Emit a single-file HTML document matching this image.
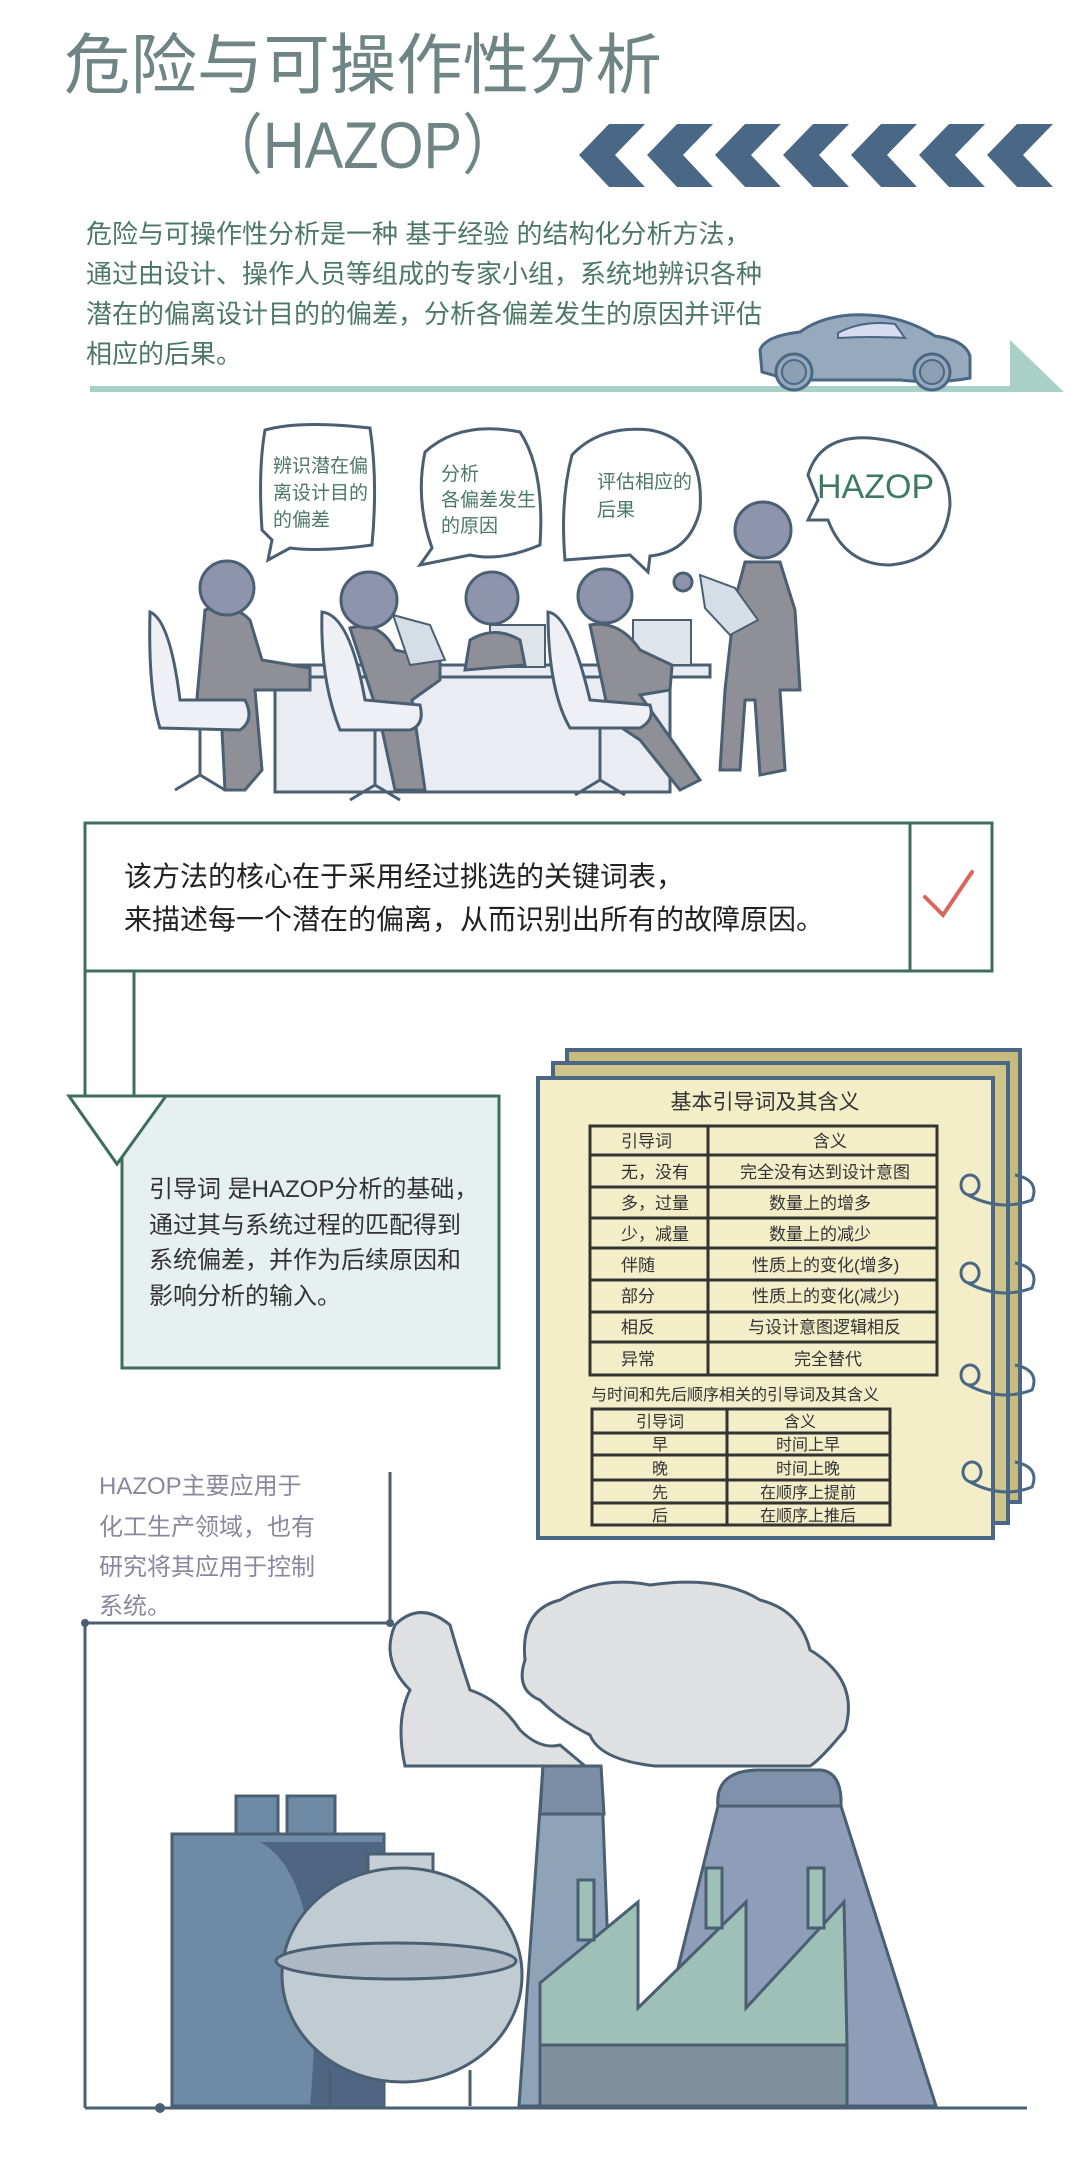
<!DOCTYPE html>
<html><head><meta charset="utf-8">
<style>
html,body{margin:0;padding:0;background:#fff;}
svg{display:block;}
text{font-family:"Liberation Sans","Noto Sans CJK SC",sans-serif;}
</style></head>
<body>
<svg width="1080" height="2160" viewBox="0 0 1080 2160" xmlns="http://www.w3.org/2000/svg">
<!-- Title -->
<text x="64" y="88" font-size="66" fill="#6f8585" textLength="598" lengthAdjust="spacingAndGlyphs">危险与可操作性分析</text>
<text x="205" y="168" font-size="66" fill="#6f8585" textLength="315" lengthAdjust="spacingAndGlyphs">（HAZOP）</text>
<!-- chevrons -->
<g fill="#4a6885">
<polygon points="579,155 609,124 645,124 615,155 645,187 609,187"/>
<polygon points="647,155 677,124 713,124 683,155 713,187 677,187"/>
<polygon points="715,155 745,124 781,124 751,155 781,187 745,187"/>
<polygon points="783,155 813,124 849,124 819,155 849,187 813,187"/>
<polygon points="851,155 881,124 917,124 887,155 917,187 881,187"/>
<polygon points="919,155 949,124 985,124 955,155 985,187 949,187"/>
<polygon points="987,155 1017,124 1053,124 1023,155 1053,187 1017,187"/>
</g>
<!-- intro paragraph -->
<g font-size="26" fill="#4d7868">
<text x="86" y="243">危险与可操作性分析是一种 基于经验 的结构化分析方法，</text>
<text x="86" y="283">通过由设计、操作人员等组成的专家小组，系统地辨识各种</text>
<text x="86" y="323">潜在的偏离设计目的的偏差，分析各偏差发生的原因并评估</text>
<text x="86" y="363">相应的后果。</text>
</g>
<!-- road line + triangle -->
<rect x="90" y="386" width="925" height="6" fill="#a9d0c6"/>
<polygon points="1010,340 1064,392 1010,392" fill="#a9d0c6"/>
<!-- car -->
<path d="M762,372 L760,350 Q765,336 800,332 Q830,310 880,316 Q910,320 935,336 Q965,340 970,356 L970,378 Q940,384 900,380 L790,380 Z" fill="#97a9bc" stroke="#4a6885" stroke-width="3"/>
<path d="M838,333 Q862,320 895,324 L905,338 Q870,336 838,338 Z" fill="#d8dcf0" stroke="#4a6885" stroke-width="2"/>
<circle cx="794" cy="372" r="18" fill="#97a9bc" stroke="#4a6885" stroke-width="3"/>
<circle cx="794" cy="372" r="12" fill="#8d9fb2" stroke="#4a6885" stroke-width="2"/>
<circle cx="932" cy="372" r="18" fill="#97a9bc" stroke="#4a6885" stroke-width="3"/>
<circle cx="932" cy="372" r="12" fill="#8d9fb2" stroke="#4a6885" stroke-width="2"/>

<!-- meeting scene -->
<g stroke="#4a5f72" stroke-width="3" fill="#fff">
<path d="M265,430 Q300,420 370,428 Q378,480 372,545 Q320,552 290,548 L268,560 L272,540 L262,530 Q258,470 265,430 Z"/>
<path d="M425,452 Q460,420 520,432 Q545,470 540,545 Q500,562 470,555 L420,565 L432,548 Q415,500 425,452 Z"/>
<path d="M572,455 Q600,425 650,430 Q705,440 700,510 Q690,552 650,556 L648,572 L630,555 L565,560 Q560,500 572,455 Z"/>
<path d="M808,475 Q820,435 870,438 Q950,445 950,505 Q945,560 890,565 Q845,565 828,520 L808,520 L818,500 Z"/>
</g>
<g font-size="19" fill="#4d7868">
<text x="273" y="472">辨识潜在偏</text><text x="273" y="499">离设计目的</text><text x="273" y="526">的偏差</text>
<text x="441" y="480">分析</text><text x="441" y="506">各偏差发生</text><text x="441" y="532">的原因</text>
<text x="597" y="488">评估相应的</text><text x="597" y="516">后果</text>
</g>
<text x="817" y="498" font-size="34" fill="#3d7a66">HAZOP</text>
<!-- table -->
<rect x="245" y="665" width="465" height="12" fill="#e9ecf2" stroke="#4a5f72" stroke-width="3"/>
<rect x="275" y="677" width="395" height="115" fill="#e9ecf2" stroke="#4a5f72" stroke-width="3"/>
<!-- laptops -->
<rect x="490" y="625" width="55" height="42" fill="#dfe3ea" stroke="#4a5f72" stroke-width="2"/>
<rect x="633" y="620" width="58" height="45" fill="#dfe3ea" stroke="#4a5f72" stroke-width="2"/>
<!-- people -->
<g fill="#8f9097" stroke="#4a5f72" stroke-width="3">
<path d="M205,610 Q230,600 250,620 L262,660 L310,668 L310,690 L255,690 L262,770 L245,790 L225,790 L222,730 L195,720 Z"/>
<path d="M350,628 Q380,620 395,650 L440,660 L440,680 L412,700 L425,790 L395,790 L380,720 Z"/>
<path d="M470,640 Q495,625 520,640 L525,665 L465,670 Z"/>
<path d="M590,625 Q620,620 640,650 L672,665 L670,690 L640,695 L700,780 L680,790 L640,740 L610,720 Z"/>
<path d="M745,562 L780,562 L795,610 L800,690 L780,690 L785,770 L760,775 L755,700 L745,700 L740,770 L720,770 L725,690 L735,600 Z"/>
<circle cx="227" cy="588" r="27" fill="#8e94ab"/>
<circle cx="369" cy="600" r="28" fill="#8e94ab"/>
<circle cx="492" cy="598" r="26" fill="#8e94ab"/>
<circle cx="605" cy="596" r="27" fill="#8e94ab"/>
<circle cx="763" cy="530" r="28" fill="#8e94ab"/>
<circle cx="683" cy="582" r="9" fill="#8e94ab"/>
</g>
<path d="M700,575 L735,588 L758,620 L730,635 L705,608 Z" fill="#d5dde6" stroke="#4a5f72" stroke-width="2"/>
<path d="M393,615 L430,625 L445,660 L410,665 Z" fill="#d5dde6" stroke="#4a5f72" stroke-width="2"/>
<!-- chairs -->
<g fill="#eef0f6" stroke="#4a5f72" stroke-width="3">
<path d="M150,612 Q170,620 180,700 L245,700 Q255,720 240,730 L160,728 Q148,690 150,612 Z"/>
<path d="M322,612 Q350,615 365,700 L420,705 Q425,725 410,730 L340,730 Q320,680 322,612 Z"/>
<path d="M548,612 Q570,615 590,700 L650,705 Q655,720 640,728 L570,728 Q548,690 548,612 Z"/>
</g>
<g stroke="#4a5f72" stroke-width="3" fill="none">
<path d="M200,730 L200,775 M175,790 L200,775 L225,790"/>
<path d="M375,730 L375,785 M350,800 L375,785 L400,800"/>
<path d="M600,728 L600,780 M575,795 L600,780 L625,795"/>
</g>

<!-- box 1 -->
<rect x="85" y="823" width="907" height="148" fill="#fff" stroke="#3f6e5e" stroke-width="3"/>
<line x1="910" y1="823" x2="910" y2="971" stroke="#3f6e5e" stroke-width="3"/>
<path d="M925,897 L943,915 L972,872" fill="none" stroke="#d9675e" stroke-width="4" stroke-linecap="round"/>
<g font-size="28" fill="#222">
<text x="124" y="886">该方法的核心在于采用经过挑选的关键词表，</text>
<text x="124" y="929">来描述每一个潜在的偏离，从而识别出所有的故障原因。</text>
</g>
<!-- connector -->
<line x1="85" y1="971" x2="85" y2="1096" stroke="#3f6e5e" stroke-width="3"/>
<line x1="134" y1="971" x2="134" y2="1096" stroke="#3f6e5e" stroke-width="3"/>
<polygon points="69,1096 166,1096 117,1164" fill="#fff" stroke="#3f6e5e" stroke-width="3"/>
<!-- box 2 -->
<rect x="122" y="1096" width="377" height="272" fill="#e6f0ee" stroke="#3f6e5e" stroke-width="3"/>
<polygon points="69,1096 166,1096 117,1164" fill="#fff" stroke="#3f6e5e" stroke-width="3"/>
<g font-size="24" fill="#333">
<text x="149" y="1197">引导词 是HAZOP分析的基础，</text>
<text x="149" y="1233">通过其与系统过程的匹配得到</text>
<text x="149" y="1268">系统偏差，并作为后续原因和</text>
<text x="149" y="1304">影响分析的输入。</text>
</g>

<!-- notebook -->
<rect x="567" y="1050" width="453" height="452" fill="#c7bb7e" stroke="#4a6885" stroke-width="4"/>
<rect x="553" y="1063" width="455" height="460" fill="#cfc48a" stroke="#4a6885" stroke-width="4"/>
<rect x="538" y="1078" width="455" height="460" fill="#f3edc8" stroke="#4a6885" stroke-width="4"/>
<text x="765" y="1109" font-size="21" fill="#333" text-anchor="middle">基本引导词及其含义</text>
<g stroke="#333" stroke-width="3" fill="none">
<rect x="590" y="1126" width="347" height="249"/>
<line x1="708" y1="1126" x2="708" y2="1375"/>
<line x1="590" y1="1155" x2="937" y2="1155"/>
<line x1="590" y1="1187" x2="937" y2="1187"/>
<line x1="590" y1="1218" x2="937" y2="1218"/>
<line x1="590" y1="1248" x2="937" y2="1248"/>
<line x1="590" y1="1280" x2="937" y2="1280"/>
<line x1="590" y1="1312" x2="937" y2="1312"/>
<line x1="590" y1="1342" x2="937" y2="1342"/>
</g>
<g font-size="17" fill="#333">
<text x="621" y="1147">引导词</text><text x="813" y="1147">含义</text>
<text x="621" y="1178">无，没有</text><text x="740" y="1178">完全没有达到设计意图</text>
<text x="621" y="1209">多，过量</text><text x="769" y="1209">数量上的增多</text>
<text x="621" y="1240">少，减量</text><text x="769" y="1240">数量上的减少</text>
<text x="621" y="1271">伴随</text><text x="752" y="1271">性质上的变化(增多)</text>
<text x="621" y="1302">部分</text><text x="752" y="1302">性质上的变化(减少)</text>
<text x="621" y="1333">相反</text><text x="748" y="1333">与设计意图逻辑相反</text>
<text x="621" y="1365">异常</text><text x="794" y="1365">完全替代</text>
</g>
<text x="591" y="1400" font-size="16" fill="#333">与时间和先后顺序相关的引导词及其含义</text>
<g stroke="#333" stroke-width="3" fill="none">
<rect x="592" y="1409" width="298" height="116"/>
<line x1="727" y1="1409" x2="727" y2="1525"/>
<line x1="592" y1="1433" x2="890" y2="1433"/>
<line x1="592" y1="1455" x2="890" y2="1455"/>
<line x1="592" y1="1480" x2="890" y2="1480"/>
<line x1="592" y1="1503" x2="890" y2="1503"/>
</g>
<g font-size="16" fill="#333" text-anchor="middle">
<text x="660" y="1427">引导词</text><text x="800" y="1427">含义</text>
<text x="660" y="1450">早</text><text x="808" y="1450">时间上早</text>
<text x="660" y="1474">晚</text><text x="808" y="1474">时间上晚</text>
<text x="660" y="1498">先</text><text x="808" y="1498">在顺序上提前</text>
<text x="660" y="1521">后</text><text x="808" y="1521">在顺序上推后</text>
</g>
<g fill="none" stroke="#4a6885" stroke-width="3">
<ellipse cx="970" cy="1185" rx="9" ry="10"/><path d="M968,1195 Q1000,1212 1032,1200 Q1040,1180 1015,1175"/>
<ellipse cx="970" cy="1273" rx="9" ry="10"/><path d="M968,1283 Q1000,1300 1032,1288 Q1040,1268 1015,1263"/>
<ellipse cx="970" cy="1375" rx="9" ry="10"/><path d="M968,1385 Q1000,1402 1032,1390 Q1040,1370 1015,1365"/>
<ellipse cx="972" cy="1472" rx="9" ry="10"/><path d="M970,1482 Q1002,1499 1032,1487 Q1040,1467 1015,1462"/>
</g>

<!-- bottom text -->
<g font-size="24" fill="#8a879e">
<text x="99" y="1494">HAZOP主要应用于</text>
<text x="99" y="1535">化工生产领域，也有</text>
<text x="99" y="1575">研究将其应用于控制</text>
<text x="99" y="1614">系统。</text>
</g>
<g stroke="#4a5f72" stroke-width="3" fill="none">
<line x1="390" y1="1472" x2="390" y2="1623"/>
<line x1="85" y1="1623" x2="390" y2="1623"/>
<line x1="85" y1="1623" x2="85" y2="2108"/>
<line x1="85" y1="2108" x2="1027" y2="2108"/>
</g>
<circle cx="85" cy="1623" r="4" fill="#4a5f72"/><circle cx="390" cy="1623" r="4" fill="#4a5f72"/><circle cx="160" cy="2108" r="5" fill="#4a5f72"/>

<!-- factory -->
<g stroke="#4a5f72" stroke-width="3">
<path d="M405,1766 Q395,1720 410,1690 Q380,1660 395,1625 Q420,1600 450,1625 Q460,1660 470,1690 Q500,1700 520,1730 Q540,1750 560,1745 L585,1766 Z" fill="#dfe0e2"/>
<path d="M655,1766 Q600,1760 590,1735 Q560,1720 540,1700 Q515,1690 525,1660 Q520,1610 560,1600 Q600,1575 650,1585 Q720,1575 760,1600 Q800,1610 810,1650 Q860,1680 845,1730 Q820,1760 810,1766 Z" fill="#dfe0e2"/>
<rect x="236" y="1796" width="42" height="40" fill="#6f8aa5"/>
<rect x="287" y="1796" width="48" height="40" fill="#6f8aa5"/>
<rect x="172" y="1834" width="212" height="272" fill="#6f8aa5"/>
<path d="M384,1842 L260,1842 Q330,1880 310,2106 L384,2106 Z" fill="#4e6682" stroke="none"/>
<path d="M543,1766 L601,1766 L614,2106 L519,2106 Z" fill="#8ea3b8"/>
<path d="M543,1766 L601,1766 L604,1814 L540,1814 Z" fill="#7c8ea6"/>
<path d="M718,1806 Q715,1770 760,1770 L820,1770 Q842,1772 841,1806 L936,2106 L644,2106 Z" fill="#8e9db8"/>
<path d="M718,1806 Q715,1770 760,1770 L820,1770 Q842,1772 841,1806 Z" fill="#7f92ab"/>
<rect x="368" y="1854" width="65" height="20" fill="#c7cfd6"/>
<ellipse cx="402" cy="1975" rx="120" ry="107" fill="#c0ccd2"/>
<ellipse cx="396" cy="1961" rx="120" ry="18" fill="#aeb9c3"/>
<line x1="330" y1="2070" x2="330" y2="2106"/><line x1="470" y1="2070" x2="470" y2="2106"/>
<path d="M540,1983 L638,1902 L638,2008 L746,1902 L746,2008 L844,1902 L847,2045 L540,2045 Z" fill="#9fc0b6"/>
<rect x="540" y="2045" width="307" height="61" fill="#7f919c"/>
<rect x="578" y="1880" width="16" height="60" fill="#9fc0b6"/>
<rect x="706" y="1868" width="16" height="60" fill="#9fc0b6"/>
<rect x="808" y="1868" width="16" height="60" fill="#9fc0b6"/>
</g>
</svg>
</body></html>
